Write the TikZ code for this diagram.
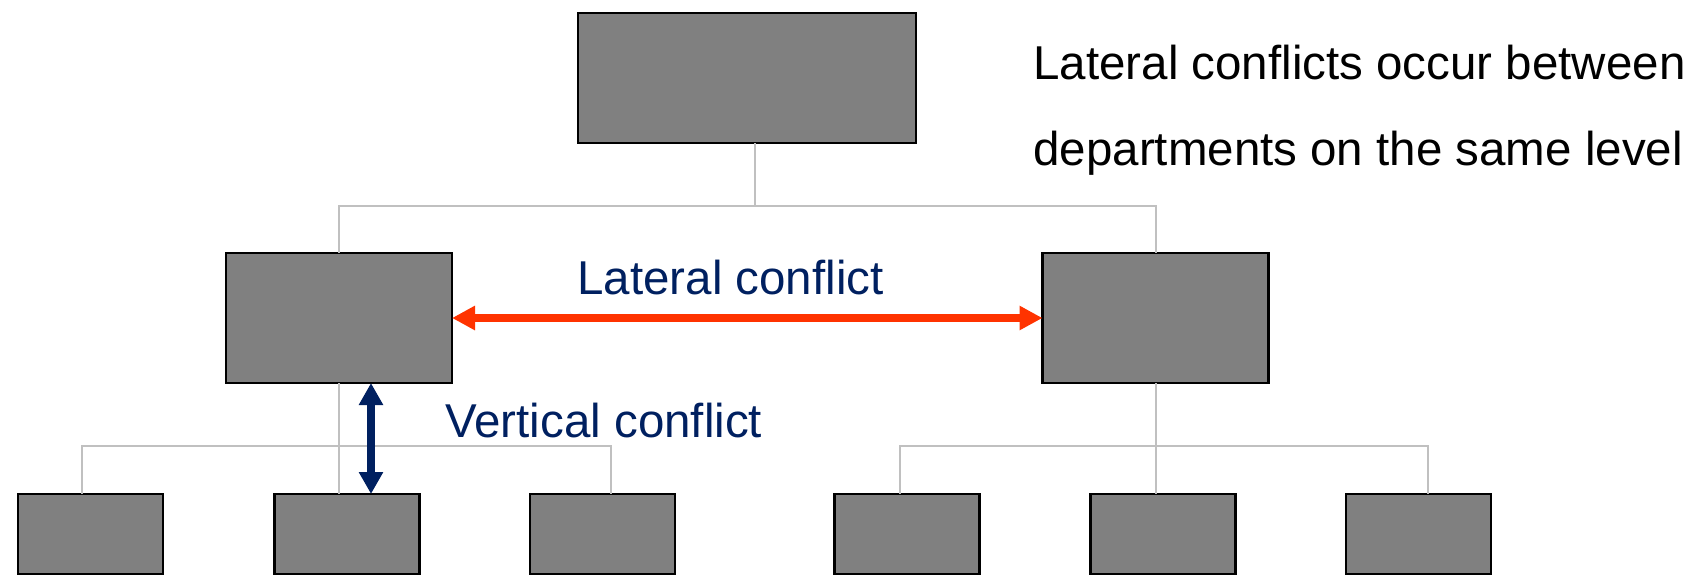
\documentclass[tikz,border=0pt]{standalone}
\usepackage{fontspec}
\setmainfont{Liberation Sans}
\usetikzlibrary{arrows.meta}
\definecolor{navy}{RGB}{0,32,96}
\definecolor{conflictred}{RGB}{255,51,0}
\definecolor{boxgray}{RGB}{128,128,128}
\definecolor{linkgray}{RGB}{192,192,192}
\begin{document}
\begin{tikzpicture}[x=0.5pt,y=-0.5pt,
  unit/.style={draw=black,line width=1.2pt,fill=boxgray,inner sep=0pt,outer sep=0pt},
  topunit/.style={unit,minimum width=169pt,minimum height=65pt},
  midunit/.style={unit,minimum width=113pt,minimum height=65pt},
  lowunit/.style={unit,minimum width=72.5pt,minimum height=40pt},
  link/.style={draw=linkgray,line width=1pt},
  lateral/.style={draw=conflictred,line width=3.75pt,
    {Triangle[length=11.5pt,width=11.5pt]}-{Triangle[length=11.5pt,width=11.5pt]}},
  vertical/.style={draw=navy,line width=3.75pt,
    {Triangle[length=11pt,width=11.5pt]}-{Triangle[length=11pt,width=11.5pt]}},
  label/.style={inner sep=0pt,anchor=base west,font=\fontsize{23.75}{28}\selectfont}
]
\useasboundingbox (0,0) rectangle (1698,575);

% units
\node[topunit] (top) at (747,78) {};
\node[midunit] (mL) at (339,318) {};
\node[midunit] (mR) at (1155.5,318) {};
\node[lowunit] (b1) at (90.5,534) {};
\node[lowunit] (b2) at (347,534) {};
\node[lowunit] (b3) at (602.5,534) {};
\node[lowunit] (b4) at (907,534) {};
\node[lowunit] (b5) at (1163,534) {};
\node[lowunit] (b6) at (1418.5,534) {};

% junction points of the reporting lines
\coordinate (bus) at ([xshift=4pt,yshift=-31.5pt]top.south);
\coordinate (busL) at ([yshift=24pt]b2.north);
\coordinate (busR) at ([yshift=24pt]b5.north);

% reporting lines
\draw[link] (top.south -| bus) -- (bus);
\draw[link] (mL.north) |- (bus) -| (mR.north);
\draw[link] ([xshift=-4.25pt]b1.north) |- (busL) -| ([xshift=4.25pt]b3.north);
\draw[link] (mL.south) -- (mL.south |- b2.north);
\draw[link] ([xshift=-3.5pt]b4.north) |- (busR) -| ([xshift=4.75pt]b6.north);
\draw[link] (mR.south) -- (mR.south |- b5.north);

% conflicts
\draw[lateral] (mL.east) -- (mR.west);
\draw[vertical] ([xshift=16pt]mL.south) -- ([xshift=12pt]b2.north);

% labels
\node[label,text=navy] (latlbl) at (577,294) {Lateral conflict};
\node[label,text=navy] (verlbl) at (445,437) {Vertical conflict};
\node[label] (note1) at (1033,79) {Lateral conflicts occur between};
\node[label] (note2) at (1033,165) {departments on the same level};
\end{tikzpicture}
\end{document}
